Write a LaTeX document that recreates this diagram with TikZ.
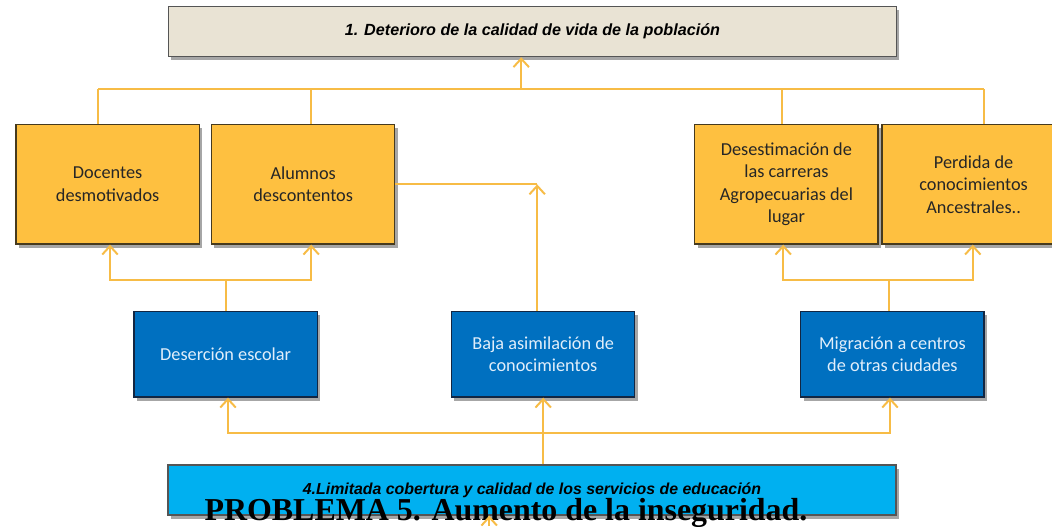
\documentclass[tikz,border=0pt]{standalone}
\usepackage{fontspec}
\setmainfont{Liberation Serif}
\newfontfamily\calibri{Carlito}
\newfontfamily\arial{Liberation Sans}
\usepackage{tikz}
\usetikzlibrary{positioning, arrows.meta, shadows, calc}
\definecolor{BoxGold}{RGB}{254,192,64}
\definecolor{GoldLine}{RGB}{247,188,70}
\definecolor{GoldEdge}{RGB}{70,58,30}
\definecolor{BoxBlue}{RGB}{0,112,192}
\definecolor{BlueEdge}{RGB}{18,38,66}
\definecolor{BoxCyan}{RGB}{0,176,240}
\definecolor{BoxBeige}{RGB}{233,227,212}
\definecolor{EdgeGray}{RGB}{85,85,85}
\definecolor{BlueText}{RGB}{225,238,250}

\begin{document}
\begin{tikzpicture}[
          box/.style={rectangle, line width=0.9pt, align=center,
                      minimum width=4.58cm, minimum height=2.98cm,
                      drop shadow={shadow xshift=2pt, shadow yshift=-2.5pt,
                                   fill=black, opacity=0.35}},
          cause/.style={box, fill=BoxGold, draw=GoldEdge, text=black!85,
                        font=\calibri\fontsize{13}{16}\selectfont},
          root/.style={box, fill=BoxBlue, draw=BlueEdge, text=BlueText,
                       minimum height=2.13cm,
                       font=\calibri\fontsize{13}{16}\selectfont},
          band/.style={box, draw=EdgeGray, minimum width=18.2cm,
                       minimum height=1.25cm},
          link/.style={GoldLine, line width=1.4pt},
          arr/.style={link, -{Straight Barb[length=6pt, width=11pt]}}
        ]
        \path[use as bounding box, fill=white] (0,0) rectangle (26.3,-13.15);

        % Effect
        \node[band, fill=BoxBeige,
              font=\arial\bfseries\itshape\fontsize{11.5}{13}\selectfont]
              (eff) at (13.31,-0.79) {1. Deterioro de la calidad\ de vida\ de la población};

        % Consequences
        \node[cause] (doc)  at (2.69,-4.61)  {Docentes\\desmotivados};
        \node[cause] (alum) at (7.58,-4.61)  {Alumnos\\descontentos};
        \node[cause] (des)  at (19.66,-4.61) {Desestimación de\\las carreras\\Agropecuarias del\\lugar};
        \node[cause] (perd) at (24.34,-4.61) {Perdida de\\conocimientos\\Ancestrales..};

        % Causes
        \node[root] (deser) at (5.64,-8.86)  {Deserción escolar};
        \node[root] (baja)  at (13.58,-8.86) {Baja asimilación de\\conocimientos};
        \node[root] (migr)  at (22.31,-8.86) {Migración a centros\\de otras ciudades};

        % Problem
        \node[band, fill=BoxCyan,
              font=\arial\bfseries\itshape\fontsize{11.3}{13}\selectfont]
              (lim) at (13.3,-12.25) {4.Limitada\ cobertura y calidad\ de los servicios\ de educación};
        \node[font=\bfseries\fontsize{22.7}{27}\selectfont, anchor=base]
              (prob) at (12.65,-13.0) {PROBLEMA 5. Aumento de la inseguridad.};

        % Top bus into the effect
        \coordinate (bus) at (13.03,-2.23);
        \draw[arr] (bus) -- (eff.south -| bus);
        \draw[link] ([xshift=-0.24cm]doc.north |- bus) -- ([xshift=0.27cm]perd.north |- bus);
        \foreach \n/\dx in {doc/-0.24, alum/0.2, des/-0.1, perd/0.27} {
          \draw[link] ([xshift=\dx cm]\n.north) -- ([xshift=\dx cm]\n.north |- bus);
        }

        % Causes into consequences
        \coordinate (jl) at (5.66,-7.0);
        \draw[link] (jl |- deser.north) -- (jl);
        \draw[arr] (jl) -| ([xshift=0.06cm]doc.south);
        \draw[arr] (jl) -| ([xshift=0.2cm]alum.south);
        \draw[link] (alum.east) -- ([xshift=-0.15cm]baja.north |- alum.east);
        \draw[arr] ([xshift=-0.15cm]baja.north) -- ([xshift=-0.15cm]baja.north |- alum.east);
        \coordinate (jr) at (22.23,-7.0);
        \draw[link] (jr |- migr.north) -- (jr);
        \draw[arr] (jr) -| ([xshift=-0.08cm]des.south);
        \draw[arr] (jr) -| ([xshift=-0.02cm]perd.south);

        % Problem into causes
        \coordinate (jb) at (13.58,-10.83);
        \draw[arr] (lim.north -| baja.south) -- (baja.south);
        \draw[arr] (jb) -| ([xshift=0.06cm]deser.south);
        \draw[arr] (jb) -| ([xshift=-0.06cm]migr.south);

        % Stub below the problem
        \coordinate (stub) at (12.23,-13.15);
        \draw[arr] (stub) -- (stub |- lim.south);
      \end{tikzpicture}
\end{document}
